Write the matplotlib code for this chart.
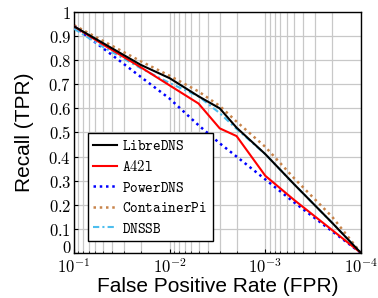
import matplotlib
matplotlib.use("Agg")
import matplotlib.pyplot as plt
import numpy as np
from matplotlib.ticker import LogLocator, NullFormatter

plt.rcParams['mathtext.fontset'] = 'cm'

fpr = [1e-1, 5e-2, 2e-2, 1e-2, 5e-3, 3e-3, 2e-3, 1e-3, 5e-4, 2e-4, 1e-4]
libredns = [0.94, 0.871, 0.78, 0.725, 0.65, 0.60, 0.52, 0.41, 0.285, 0.125, 0.0]
a42l = [0.94, 0.865, 0.77, 0.695, 0.62, 0.517, 0.485, 0.32, 0.22, 0.095, 0.0]
powerdns = [0.94, 0.85, 0.73, 0.64, 0.53, 0.455, 0.40, 0.305, 0.21, 0.09, 0.0]
containerpi = [0.945, 0.88, 0.795, 0.735, 0.67, 0.61, 0.545, 0.44, 0.31, 0.15, 0.0]
dnssb = [0.93, 0.855, 0.766, 0.705, 0.65, 0.58, 0.515, 0.41, 0.285, 0.125, 0.0]

labels = ['LibreDNS', 'A42l', 'PowerDNS', 'ContainerPi', 'DNSSB']
yticks = [0, 0.1, 0.2, 0.3, 0.4, 0.5, 0.6, 0.7, 0.8, 0.9, 1]
ytick_labels = ['0', '0.1', '0.2', '0.3', '0.4', '0.5', '0.6', '0.7', '0.8', '0.9', '1']
xticks = [1e-1, 1e-2, 1e-3, 1e-4]
xtick_labels = [r'$10^{-1}$', r'$10^{-2}$', r'$10^{-3}$', r'$10^{-4}$']

fig = plt.figure(figsize=(3.78, 2.98), dpi=100)
ax = fig.add_axes([0.196, 0.151, 0.759, 0.809])

ax.plot(fpr, libredns, color='black', lw=1.5, label=r'$\mathtt{%s}$' % labels[0], zorder=5)
ax.plot(fpr, a42l, color='red', lw=1.5, label=r'$\mathtt{%s}$' % labels[1], zorder=4)
ax.plot(fpr, powerdns, color='blue', lw=1.8, ls=(0, (1, 1.5)), label=r'$\mathtt{%s}$' % labels[2], zorder=3)
ax.plot(fpr, containerpi, color='#c8844a', lw=1.8, ls=(0, (1, 1.5)), label=r'$\mathtt{%s}$' % labels[3], zorder=2)
ax.plot(fpr, dnssb, color='#4dbeee', lw=1.5, ls=(0, (3, 1.5, 1, 1.5)), label=r'$\mathtt{%s}$' % labels[4], zorder=3)

ax.set_xscale('log')
ax.set_xlim(1e-1, 1e-4)
ax.set_ylim(0, 1)
ax.set_xticks(xticks)
ax.set_xticklabels(xtick_labels)
ax.xaxis.set_minor_locator(LogLocator(base=10, subs=np.arange(2, 10)))
ax.xaxis.set_minor_formatter(NullFormatter())
ax.set_yticks(yticks)
ax.set_yticklabels([r'$%s$' % t for t in ytick_labels])
ax.tick_params(axis='both', which='both', direction='in', labelsize=12, length=3, pad=2)
ax.tick_params(axis='x', which='major', pad=3.5)
ax.tick_params(axis='x', which='minor', length=1.5)
ax.get_yticklabels()[0].set_verticalalignment('baseline')
ax.grid(True, which='major', color='#c8c8c8', lw=0.9)
ax.grid(True, which='minor', axis='x', color='#c8c8c8', lw=0.9)
ax.set_axisbelow(True)
for s in ax.spines.values():
    s.set_linewidth(1.0)

ax.set_xlabel('False Positive Rate (FPR)', fontsize=15, family='Liberation Sans', labelpad=0)
ax.set_ylabel('Recall (TPR)', fontsize=15, family='Liberation Sans', labelpad=10)

leg = ax.legend(loc='lower left', bbox_to_anchor=(0.049, 0.051), fontsize=10.5,
                frameon=True, fancybox=False, edgecolor='black', framealpha=1,
                handlelength=1.6, handletextpad=0.4, labelspacing=0.38,
                borderpad=0.35, borderaxespad=0)
leg.get_frame().set_linewidth(1.0)

fig.savefig('out.png', dpi=100)
